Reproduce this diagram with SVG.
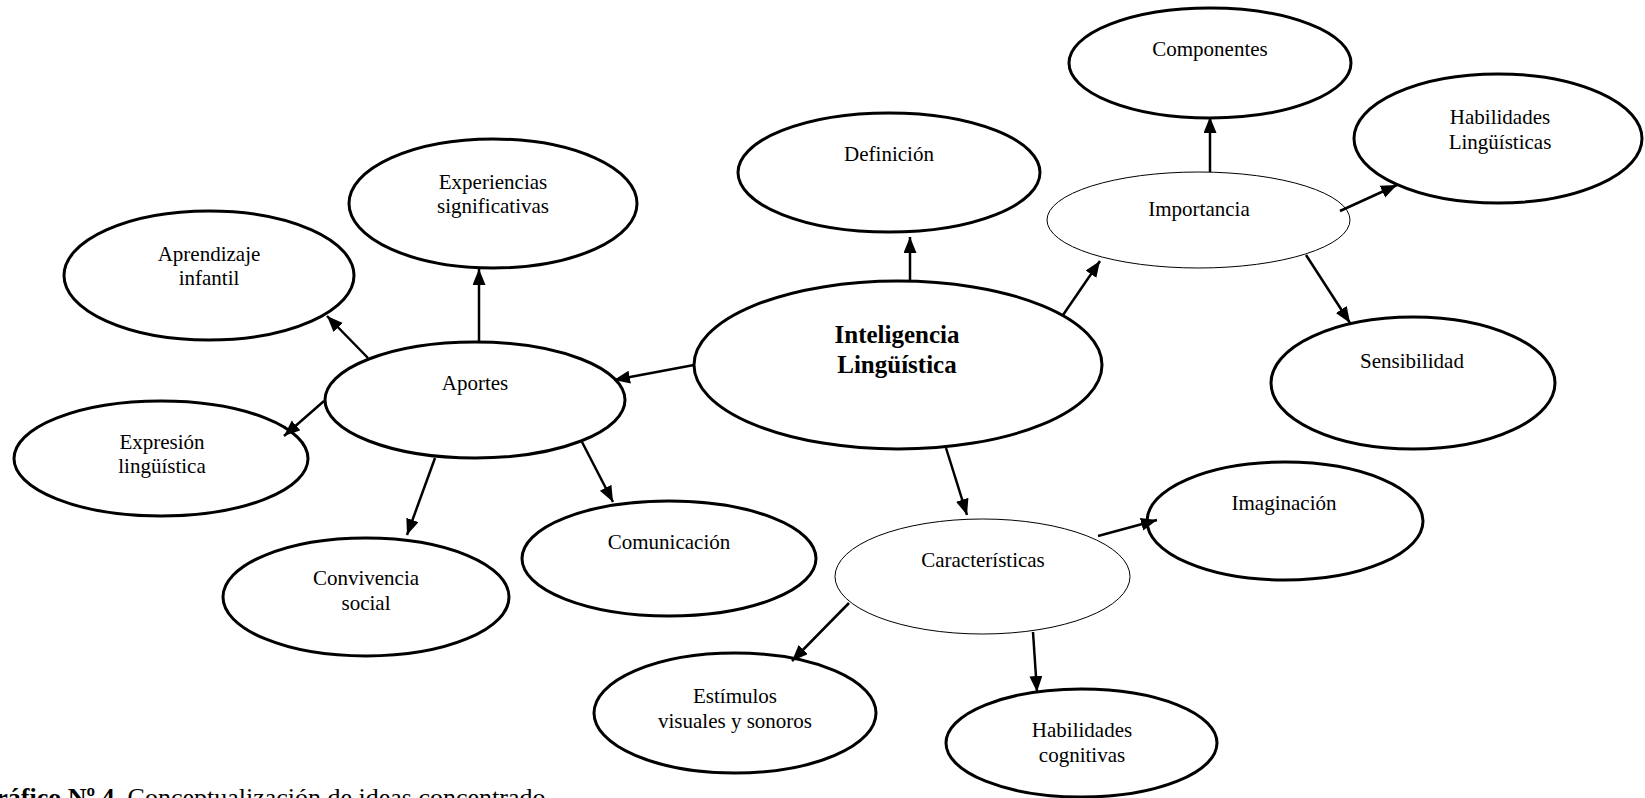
<svg xmlns="http://www.w3.org/2000/svg" width="1645" height="798" viewBox="0 0 1645 798">
<style>
.n{fill:#fff;stroke:#000;stroke-width:3}
.t{fill:#fff;stroke:#000;stroke-width:1}
text{font-family:"Liberation Serif","Times New Roman",serif;font-size:21px;fill:#000;text-anchor:middle}
.b{font-weight:bold;font-size:25px}
.c line{stroke:#000;stroke-width:2.5;marker-end:url(#ah)}
.cap{text-anchor:start;font-size:26px}
</style>
<defs>
<marker id="ah" markerUnits="userSpaceOnUse" markerWidth="18" markerHeight="14" refX="16" refY="6.5" orient="auto">
<path d="M0,0 L16,6.5 L0,13 z" fill="#000"/>
</marker>
</defs>
<rect width="1645" height="798" fill="#fff"/>
<g id="componentes"><ellipse class="n" cx="1210" cy="63" rx="141" ry="55"/><text x="1210" y="56">Componentes</text></g>
<g id="habilidades-linguisticas"><ellipse class="n" cx="1498" cy="138.5" rx="144" ry="64.5"/><text x="1500" y="124">Habilidades</text><text x="1500" y="149">Lingüísticas</text></g>
<g id="definicion"><ellipse class="n" cx="889" cy="172.5" rx="151" ry="59.5"/><text x="889" y="161">Definición</text></g>
<g id="importancia"><ellipse class="t" cx="1198.5" cy="220" rx="151.5" ry="48"/><text x="1199" y="216">Importancia</text></g>
<g id="sensibilidad"><ellipse class="n" cx="1413" cy="383" rx="142" ry="66"/><text x="1412" y="368">Sensibilidad</text></g>
<g id="inteligencia"><ellipse class="n" cx="898" cy="365" rx="204" ry="84"/><text class="b" x="897" y="343">Inteligencia</text><text class="b" x="897" y="373">Lingüística</text></g>
<g id="experiencias"><ellipse class="n" cx="493" cy="203.5" rx="144" ry="64.5"/><text x="493" y="189">Experiencias</text><text x="493" y="213">significativas</text></g>
<g id="aprendizaje"><ellipse class="n" cx="209" cy="275.5" rx="145" ry="64.5"/><text x="209" y="261">Aprendizaje</text><text x="209" y="285">infantil</text></g>
<g id="aportes"><ellipse class="n" cx="475" cy="400" rx="150" ry="58"/><text x="475" y="390">Aportes</text></g>
<g id="expresion"><ellipse class="n" cx="161" cy="458.5" rx="147" ry="57.5"/><text x="162" y="449">Expresión</text><text x="162" y="473">lingüística</text></g>
<g id="convivencia"><ellipse class="n" cx="366" cy="597" rx="143" ry="59"/><text x="366" y="585">Convivencia</text><text x="366" y="610">social</text></g>
<g id="comunicacion"><ellipse class="n" cx="669" cy="558.5" rx="147" ry="57.5"/><text x="669" y="549">Comunicación</text></g>
<g id="caracteristicas"><ellipse class="t" cx="982.5" cy="576.5" rx="147.5" ry="57.5"/><text x="983" y="567">Características</text></g>
<g id="imaginacion"><ellipse class="n" cx="1285" cy="521" rx="138" ry="59"/><text x="1284" y="510">Imaginación</text></g>
<g id="estimulos"><ellipse class="n" cx="735" cy="713" rx="141" ry="60"/><text x="735" y="703">Estímulos</text><text x="735" y="728">visuales y sonoros</text></g>
<g id="habilidades-cognitivas"><ellipse class="n" cx="1081.5" cy="743" rx="135.5" ry="54"/><text x="1082" y="737">Habilidades</text><text x="1082" y="762">cognitivas</text></g>
<g id="connectors" class="c">
<line x1="910" y1="282" x2="910" y2="237"/>
<line x1="1063" y1="315" x2="1100" y2="261"/>
<line x1="1210" y1="172" x2="1210" y2="117"/>
<line x1="1340" y1="211" x2="1397" y2="185"/>
<line x1="1306" y1="255" x2="1350" y2="323"/>
<line x1="694" y1="365" x2="614" y2="380"/>
<line x1="368" y1="358" x2="327" y2="316"/>
<line x1="479" y1="342" x2="479" y2="269"/>
<line x1="324" y1="401" x2="284" y2="436"/>
<line x1="435" y1="458" x2="407" y2="535"/>
<line x1="582" y1="442" x2="613" y2="502"/>
<line x1="946" y1="448" x2="967" y2="515"/>
<line x1="1098" y1="536" x2="1157" y2="520"/>
<line x1="849" y1="603" x2="792" y2="661"/>
<line x1="1033" y1="632" x2="1037" y2="692"/>
</g>
<text class="cap" x="-24" y="806"><tspan font-weight="bold">Gráfico Nº 4.</tspan> Conceptualización de ideas concentrado</text>
</svg>
